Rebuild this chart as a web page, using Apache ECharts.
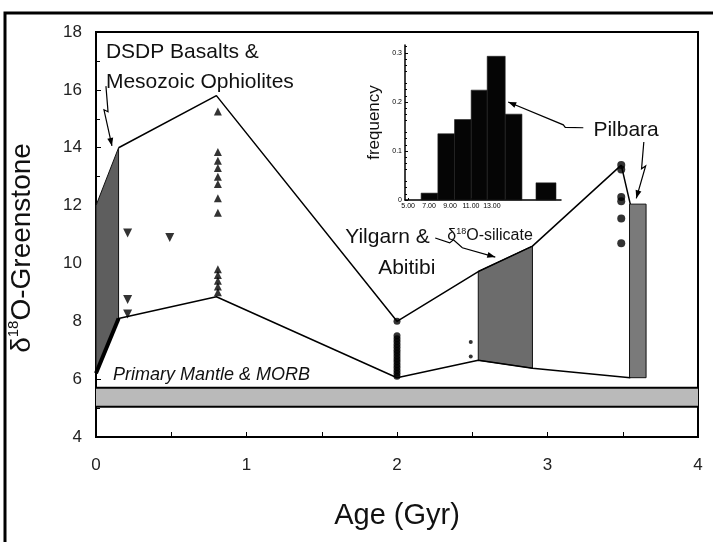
<!DOCTYPE html>
<html>
<head>
<meta charset="utf-8">
<script src="https://cdn.jsdelivr.net/npm/echarts@6/dist/echarts.min.js"></script>
<style>
  html, body { margin: 0; padding: 0; background: #fff; }
  #chart { width: 713px; height: 542px; }
</style>
</head>
<body>
<div id="chart"></div>
<script>
const FONT = '"Liberation Sans", Arial, sans-serif';

// main axes
const ageRange = [0, 4];
const o18Range = [4, 18];

// envelope lines (age Gyr, d18O)
const upperAge = [0.15, 0.8, 2.0, 2.54, 2.9, 3.49, 3.55];
const upperO18 = [14.0, 15.8, 8.0, 9.72, 10.6, 13.4, 12.05];
const lowerAge = [0, 0.15, 0.8, 2.0, 2.54, 2.9, 3.55];
const lowerO18 = [6.2, 8.1, 8.85, 6.05, 6.65, 6.38, 6.05];

// shaded fields: age edges, top and bottom value at each edge
const fieldAge = [[0, 0.15], [2.54, 2.9], [3.545, 3.655]];
const fieldTop = [[12.0, 14.0], [9.72, 10.6], [12.05, 12.05]];
const fieldBottom = [[6.2, 8.1], [6.65, 6.38], [6.05, 6.05]];
const fieldColors = ['#5e5e5e', '#6c6c6c', '#7a7a7a'];

// primary mantle & MORB band
const morbBand = [5.05, 5.7];

// measured points
const downTriAge = [0.21, 0.49, 0.21, 0.21];
const downTriO18 = [11.05, 10.9, 8.75, 8.25];
const upTriAge = [0.81, 0.81, 0.81, 0.81, 0.81, 0.81, 0.81, 0.81, 0.81, 0.81, 0.81, 0.81, 0.81];
const upTriO18 = [15.25, 13.85, 13.55, 13.3, 13.0, 12.75, 12.25, 11.75, 9.8, 9.6, 9.4, 9.2, 9.0];
const yilgarnAge = [2.0, 2.0, 2.0, 2.0, 2.0, 2.0, 2.0, 2.0, 2.0, 2.0, 2.0, 2.0, 2.0, 2.0, 2.0, 2.0];
const yilgarnO18 = [8.0, 7.5, 7.4, 7.3, 7.2, 7.1, 7.0, 6.9, 6.8, 6.7, 6.6, 6.5, 6.4, 6.3, 6.2, 6.1];
const smallDotAge = [2.49, 2.49];
const smallDotO18 = [7.28, 6.78];
const pilbaraAge = [3.49, 3.49, 3.49, 3.49, 3.49, 3.49];
const pilbaraO18 = [13.4, 13.25, 12.3, 12.15, 11.55, 10.7];

// inset histogram (d18O-silicate)
const binLo = [6.24, 7.84, 9.43, 11.02, 12.55, 14.27, 17.21];
const binHi = [7.84, 9.43, 11.02, 12.55, 14.27, 15.87, 19.12];
const binFreq = [0.014, 0.135, 0.164, 0.224, 0.293, 0.175, 0.035];
const histLabels = [5, 7, 9, 11, 13];
const freqTicks = [0, 0.1, 0.2, 0.3];

const zip = (xs, ys) => xs.map((x, i) => [x, ys[i]]);

const chart = echarts.init(document.getElementById('chart'));

const option = {
  animation: false,
  backgroundColor: '#fff',
  textStyle: { fontFamily: FONT },
  grid: [
    { left: 96, top: 32, width: 602, height: 405, show: true, borderColor: '#000', borderWidth: 2, backgroundColor: 'transparent' },
    { left: 405, top: 45, width: 156, height: 155 }
  ],
  xAxis: [
    {
      gridIndex: 0, type: 'value', min: ageRange[0], max: ageRange[1], interval: 1,
      axisLine: { lineStyle: { color: '#000', width: 2 } },
      axisTick: { inside: true, length: 5, lineStyle: { color: '#000' } },
      minorTick: { show: true, splitNumber: 2, length: 5, lineStyle: { color: '#000' } },
      axisLabel: { fontSize: 17, color: '#222', margin: 20, fontFamily: FONT },
      splitLine: { show: false },
      name: 'Age (Gyr)', nameLocation: 'middle', nameGap: 64,
      nameTextStyle: { fontSize: 29, color: '#111', fontFamily: FONT }
    },
    {
      gridIndex: 1, type: 'value', min: 4.7, max: 19.6,
      axisLine: { lineStyle: { color: '#000', width: 1.5 } },
      axisTick: { inside: true, length: 2, customValues: histLabels, lineStyle: { color: '#000' } },
      axisLabel: { fontSize: 7, color: '#000', margin: 3, customValues: histLabels, formatter: v => v.toFixed(2), fontFamily: FONT },
      splitLine: { show: false }
    }
  ],
  yAxis: [
    {
      gridIndex: 0, type: 'value', min: o18Range[0], max: o18Range[1], interval: 2,
      axisLine: { lineStyle: { color: '#000', width: 2 } },
      axisTick: { inside: true, length: 5, lineStyle: { color: '#000' } },
      minorTick: { show: true, splitNumber: 2, length: 4, lineStyle: { color: '#000' } },
      axisLabel: { fontSize: 17, color: '#222', margin: 14, fontFamily: FONT },
      splitLine: { show: false }
    },
    {
      gridIndex: 1, type: 'value', min: 0, max: 0.316,
      axisLine: { lineStyle: { color: '#000', width: 1.5 } },
      axisTick: { inside: true, length: 3, customValues: freqTicks, lineStyle: { color: '#000' } },
      minorTick: { show: true, splitNumber: 4, length: 2, lineStyle: { color: '#000' } },
      axisLabel: { fontSize: 7, color: '#000', margin: 3, customValues: freqTicks,
        formatter: v => (v === 0 ? '0' : v.toFixed(1)), fontFamily: FONT },
      splitLine: { show: false },
      name: 'frequency', nameLocation: 'middle', nameGap: 22,
      nameTextStyle: { fontSize: 17, color: '#111', fontFamily: FONT }
    }
  ],
  series: [
    {
      // MORB band
      type: 'custom', xAxisIndex: 0, yAxisIndex: 0, z: 1,
      data: [[ageRange[0], morbBand[0], ageRange[1], morbBand[1]]],
      encode: { x: [0, 2], y: [1, 3] },
      renderItem: (params, api) => {
        const p0 = api.coord([api.value(0), api.value(1)]);
        const p1 = api.coord([api.value(2), api.value(3)]);
        return {
          type: 'group',
          children: [
            { type: 'rect', shape: { x: p0[0], y: p1[1], width: p1[0] - p0[0], height: p0[1] - p1[1] },
              style: { fill: '#bababa' } },
            { type: 'line', shape: { x1: p0[0], y1: p1[1], x2: p1[0], y2: p1[1] }, style: { stroke: '#000', lineWidth: 2 } },
            { type: 'line', shape: { x1: p0[0], y1: p0[1], x2: p1[0], y2: p0[1] }, style: { stroke: '#000', lineWidth: 2 } }
          ]
        };
      }
    },
    {
      // shaded fields
      type: 'custom', xAxisIndex: 0, yAxisIndex: 0, z: 2,
      data: fieldAge.map((a, i) => [a[0], fieldTop[i][0], a[1], fieldTop[i][1], fieldBottom[i][0], fieldBottom[i][1]]),
      encode: { x: [0, 2], y: [1, 3, 4, 5] },
      renderItem: (params, api) => {
        const pts = [
          api.coord([api.value(0), api.value(4)]),
          api.coord([api.value(0), api.value(1)]),
          api.coord([api.value(2), api.value(3)]),
          api.coord([api.value(2), api.value(5)])
        ];
        return { type: 'polygon', shape: { points: pts },
          style: { fill: fieldColors[params.dataIndex], stroke: '#111', lineWidth: 1 } };
      }
    },
    {
      type: 'line', xAxisIndex: 0, yAxisIndex: 0, z: 3, data: zip(upperAge, upperO18),
      symbol: 'none', lineStyle: { color: '#000', width: 1.5 }
    },
    {
      type: 'line', xAxisIndex: 0, yAxisIndex: 0, z: 3, data: zip(lowerAge, lowerO18),
      symbol: 'none', lineStyle: { color: '#000', width: 1.5 }
    },
    {
      type: 'line', xAxisIndex: 0, yAxisIndex: 0, z: 3, data: zip(lowerAge.slice(0, 2), lowerO18.slice(0, 2)),
      symbol: 'none', lineStyle: { color: '#000', width: 4 }
    },
    {
      type: 'scatter', xAxisIndex: 0, yAxisIndex: 0, z: 4, data: zip(downTriAge, downTriO18),
      symbol: 'triangle', symbolRotate: 180, symbolSize: 9, itemStyle: { color: '#000' }
    },
    {
      type: 'scatter', xAxisIndex: 0, yAxisIndex: 0, z: 4, data: zip(upTriAge, upTriO18),
      symbol: 'triangle', symbolSize: 8, itemStyle: { color: '#000' }
    },
    {
      type: 'scatter', xAxisIndex: 0, yAxisIndex: 0, z: 4, data: zip(yilgarnAge, yilgarnO18),
      symbol: 'circle', symbolSize: 7, itemStyle: { color: '#000' }
    },
    {
      type: 'scatter', xAxisIndex: 0, yAxisIndex: 0, z: 4, data: zip(smallDotAge, smallDotO18),
      symbol: 'circle', symbolSize: 4, itemStyle: { color: '#000' }
    },
    {
      type: 'scatter', xAxisIndex: 0, yAxisIndex: 0, z: 4, data: zip(pilbaraAge, pilbaraO18),
      symbol: 'circle', symbolSize: 8, itemStyle: { color: '#000' }
    },
    {
      // inset histogram
      type: 'custom', xAxisIndex: 1, yAxisIndex: 1, z: 5,
      data: binLo.map((lo, i) => [lo, binHi[i], binFreq[i]]),
      encode: { x: [0, 1], y: 2 },
      renderItem: (params, api) => {
        const a = api.coord([api.value(0), 0]);
        const b = api.coord([api.value(1), api.value(2)]);
        return { type: 'rect', shape: { x: a[0], y: b[1], width: b[0] - a[0], height: a[1] - b[1] },
          style: { fill: '#050505', stroke: '#222', lineWidth: 0.6 } };
      }
    }
  ]
};

chart.setOption(option);

// annotations, placed in the main data coordinates
const toPx = p => chart.convertToPixel({ gridIndex: 0 }, p);

const arrowPaths = [
  [[0.066, 16.13], [0.08, 15.24], [0.053, 15.31], [0.106, 14.06]],
  [[3.238, 14.69], [3.118, 14.70], [3.105, 14.79], [2.739, 15.58]],
  [[3.64, 14.2], [3.625, 13.27], [3.652, 13.37], [3.59, 12.25]],
  [[2.254, 10.88], [2.35, 10.71], [2.375, 10.82], [2.434, 10.54], [2.653, 10.22]]
];

const labels = [
  { text: 'DSDP Basalts &', at: [0.066, 17.31], size: 21 },
  { text: 'Mesozoic Ophiolites', at: [0.066, 16.27], size: 21 },
  { text: 'Primary Mantle & MORB', at: [0.113, 6.15], size: 18, italic: true },
  { text: 'Yilgarn &', at: [1.656, 10.92], size: 21 },
  { text: 'Abitibi', at: [1.875, 9.85], size: 21 },
  { text: 'Pilbara', at: [3.305, 14.6], size: 21 }
];

const graphics = [];

// outer frame (top and left edges)
graphics.push({ type: 'polyline', shape: { points: [[5, 542], [5, 13], [713, 13]] },
  style: { stroke: '#000', lineWidth: 3, fill: null }, z: 100 });

arrowPaths.forEach(path => {
  const pts = path.map(toPx);
  graphics.push({ type: 'polyline', shape: { points: pts }, style: { stroke: '#000', lineWidth: 1.2, fill: null }, z: 100 });
  const e = pts[pts.length - 1], s = pts[pts.length - 2];
  const ang = Math.atan2(e[1] - s[1], e[0] - s[0]);
  const len = 8, half = 3;
  const bx = e[0] - len * Math.cos(ang), by = e[1] - len * Math.sin(ang);
  graphics.push({ type: 'polygon', z: 100,
    shape: { points: [e,
      [bx + half * Math.sin(ang), by - half * Math.cos(ang)],
      [bx - half * Math.sin(ang), by + half * Math.cos(ang)]] },
    style: { fill: '#000' } });
});

labels.forEach(l => {
  const p = toPx(l.at);
  graphics.push({ type: 'text', x: p[0], y: p[1], z: 100,
    style: { text: l.text, fill: '#111', align: 'left', verticalAlign: 'middle',
      font: (l.italic ? 'italic ' : '') + l.size + 'px ' + FONT } });
});

// d18O-silicate label
const sil = toPx([2.334, 10.95]);
graphics.push({ type: 'text', x: sil[0], y: sil[1], z: 100,
  style: { text: '{a|δ}{s|18}{a|O-silicate}', align: 'left', verticalAlign: 'middle',
    rich: { a: { fontSize: 16, fontFamily: FONT, fill: '#111', lineHeight: 18 },
            s: { fontSize: 9, fontFamily: FONT, fill: '#111', verticalAlign: 'top', lineHeight: 18 } } } });

// y axis title
graphics.push({ type: 'text', x: 22, y: 248, rotation: Math.PI / 2, z: 100,
  style: { text: '{a|δ}{s|18}{a|O-Greenstone}', align: 'center', verticalAlign: 'middle',
    rich: { a: { fontSize: 28, fontFamily: FONT, fill: '#111', lineHeight: 32 },
            s: { fontSize: 15, fontFamily: FONT, fill: '#111', verticalAlign: 'top', lineHeight: 32 } } } });

chart.setOption({ graphic: graphics });
</script>
</body>
</html>
